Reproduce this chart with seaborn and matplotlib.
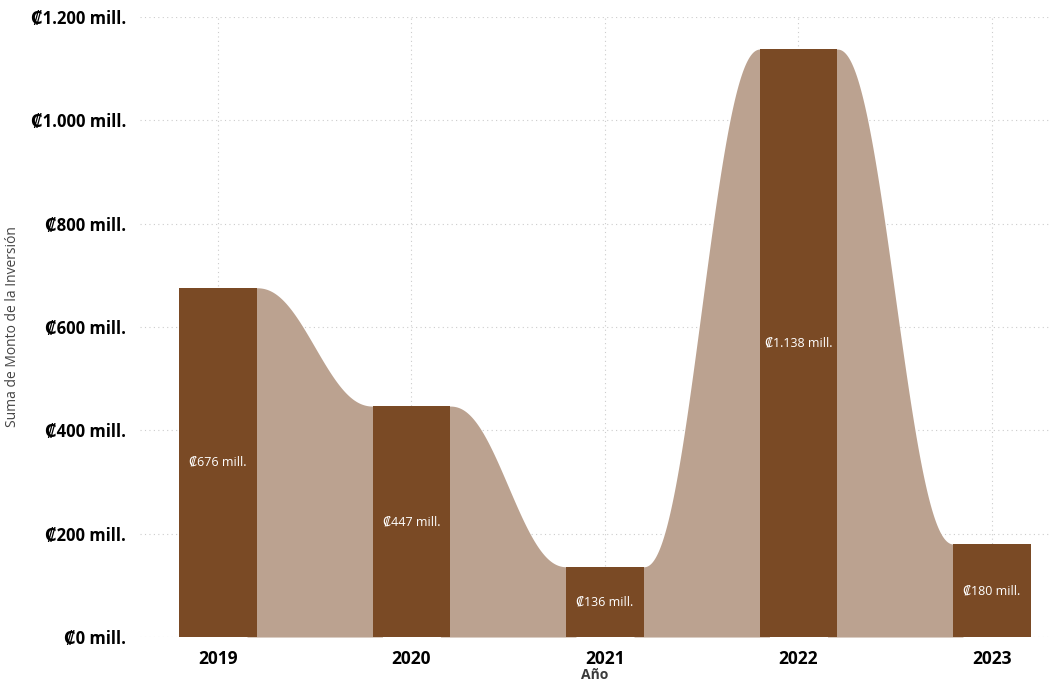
import numpy as np
import pandas as pd
import seaborn as sns
import matplotlib.pyplot as plt

years = ['2019', '2020', '2021', '2022', '2023']
montos = [676, 447, 136, 1138, 180]  # millones de colones
etiquetas = ['₡676 mill.', '₡447 mill.', '₡136 mill.', '₡1.138 mill.', '₡180 mill.']
y_ticks = [0, 200, 400, 600, 800, 1000, 1200]
y_labels = ['₡0 mill.', '₡200 mill.', '₡400 mill.', '₡600 mill.', '₡800 mill.',
            '₡1.000 mill.', '₡1.200 mill.']

BAR = '#7a4a25'
RIBBON = '#bba290'

sns.set_style('white')
plt.rcParams['font.family'] = ['Open Sans', 'DejaVu Sans']

df = pd.DataFrame({'Año': years, 'Monto': montos})

fig = plt.figure(figsize=(10.55, 6.83), dpi=100)
ax = fig.add_axes([0.1327, 0.0673, 0.8626, 0.9078])

sns.barplot(data=df, x='Año', y='Monto', color=BAR, width=0.4, saturation=1,
            linewidth=0, ax=ax, zorder=3)

# ribbons between consecutive bars (smooth step from top to top)
# they start under the bars so no gap shows at the bar edges
bars = ax.patches
for i in range(len(bars) - 1):
    x0 = bars[i].get_x() + bars[i].get_width()
    x1 = bars[i + 1].get_x()
    h0 = bars[i].get_height()
    h1 = bars[i + 1].get_height()
    xs = np.linspace(x0, x1, 300)
    t = (xs - x0) / (x1 - x0)
    s1 = t * t * (3 - 2 * t)
    s2 = t ** 3 * (t * (6 * t - 15) + 10)
    s = 0.5 * (s1 + s2)
    ys = h0 + (h1 - h0) * s
    pad = 0.05
    xs = np.concatenate([[x0 - pad], xs, [x1 + pad]])
    ys = np.concatenate([[h0], ys, [h1]])
    ax.fill_between(xs, 0, ys, color=RIBBON, lw=0, zorder=2)

for b, txt in zip(bars, etiquetas):
    ax.text(b.get_x() + b.get_width() / 2, b.get_height() / 2, txt,
            ha='center', va='center', color='white', fontsize=9, zorder=4)

ax.set_ylim(0, 1200)
ax.set_xlim(-0.403, 4.30)
ax.set_yticks(y_ticks)
ax.set_yticklabels(y_labels, fontsize=12, fontweight='bold', color='black')
ax.tick_params(axis='x', labelsize=12.5, length=0, pad=9)
ax.tick_params(axis='y', length=0, pad=10)
for lab in ax.get_xticklabels():
    lab.set_fontweight('bold')
    lab.set_color('black')

ax.grid(True, axis='both', color='#cccccc', linestyle=(0, (1, 3)), lw=0.8, zorder=0)
ax.set_axisbelow(True)
for sp in ax.spines.values():
    sp.set_visible(False)

ax.set_xlabel('Año', fontsize=10, fontweight='bold', color='#3a3a3a', labelpad=0)
ax.set_ylabel('Suma de Monto de la Inversión', fontsize=10, color='#444444', labelpad=8)

plt.savefig('out.png', dpi=100)
